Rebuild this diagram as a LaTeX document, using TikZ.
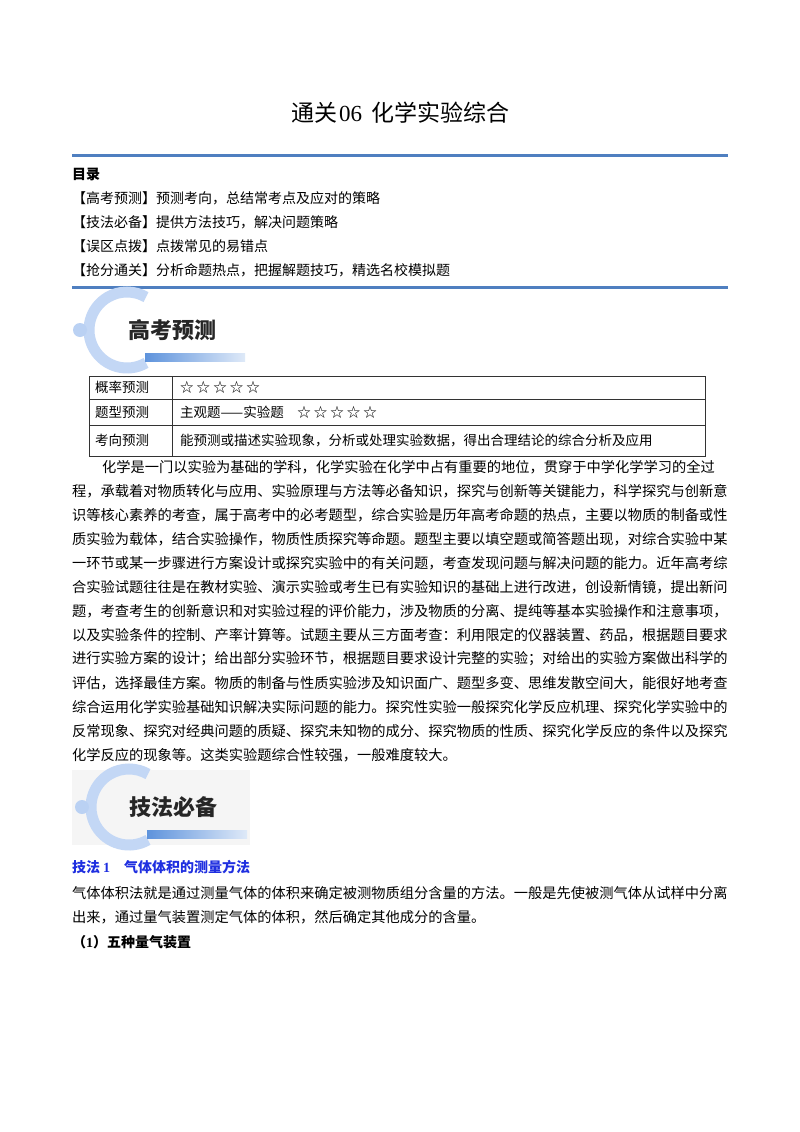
\documentclass[tikz,border=0pt]{standalone}
\usepackage{fontspec}
\setmainfont{Noto Sans CJK SC}
\newfontfamily\latinserif{Liberation Serif}
\definecolor{rulecol}{HTML}{4F7FC0}
\definecolor{cblue}{HTML}{A9C6F0}
\definecolor{barblue}{HTML}{5E93DC}
\definecolor{linkblue}{HTML}{1F2FE0}
\tikzset{
  txt/.style={anchor=west,inner sep=0pt,font=\fontsize{14.25}{17}\selectfont},
  toc/.style={anchor=west,inner sep=0pt,font=\fontsize{14}{17}\selectfont},
  badgetxt/.style={anchor=west,inner sep=0pt,font=\fontsize{22}{26}\selectfont\bfseries,text=black!85},
  cell/.style={anchor=west,inner sep=0pt,font=\fontsize{13.5}{16}\selectfont},
  bluerule/.style={draw=rulecol,line width=3pt}
}
\newcommand{\mybadge}[3]{%
  \fill[#3] (#1-2,#2-37) rectangle (#1+176,#2+38);
  \draw[cblue!70,line width=11pt] (#1+55,#2) ++(60:38) arc (60:300:38);
  \fill[cblue!80] (#1+8,#2) circle (7);
  \shade[left color=barblue,right color=barblue!20] (#1+73,#2+23) rectangle (#1+173,#2+31);
}
\begin{document}
\begin{tikzpicture}[x=1pt,y=-1pt]
\useasboundingbox (0,0) rectangle (800,1132);
\fill[white] (0,0) rectangle (800,1132);
\node[inner sep=0pt,font=\fontsize{23}{27}\selectfont] (title) at (400,113) {通关\hspace{2pt}{\latinserif 06}\hspace{9pt}化学实验综合};
\draw[bluerule] (72,155) coordinate (r1a) -- (728,155) coordinate (r1b);
\node[toc,font=\fontsize{14}{17}\selectfont\bfseries] (ml) at (72,174) {目录};
\node[toc] (t1) at (72,198) {【高考预测】预测考向，总结常考点及应对的策略};
\node[toc] (t2) at (72,222) {【技法必备】提供方法技巧，解决问题策略};
\node[toc] (t3) at (72,246) {【误区点拨】点拨常见的易错点};
\node[toc] (t4) at (72,270) {【抢分通关】分析命题热点，把握解题技巧，精选名校模拟题};
\draw[bluerule] (72,287) coordinate (r2a) -- (728,287) coordinate (r2b);
% badge 1
\mybadge{72}{330}{white}
\node[badgetxt] (b1) at (128,330) {高考预测};
% table
\draw[black!80,line width=0.8pt] (89,376) rectangle (705,456);
\draw[black!80,line width=0.8pt] (89,399) -- (705,399) (89,425) -- (705,425) (172,376) -- (172,456);
\node[cell] (c11) at (95,387) {概率预测};
\node[cell] (c12) at (180,387) {☆ ☆ ☆ ☆ ☆};
\node[cell] (c21) at (95,412) {题型预测};
\node[cell] (c22) at (180,412) {主观题——实验题　☆ ☆ ☆ ☆ ☆};
\node[cell] (c31) at (95,440) {考向预测};
\node[cell] (c32) at (180,440) {能预测或描述实验现象，分析或处理实验数据，得出合理结论的综合分析及应用};
% paragraph
\node[txt] (p1) at (102,467) {化学是一门以实验为基础的学科，化学实验在化学中占有重要的地位，贯穿于中学化学学习的全过};
\node[txt] (p2) at (72,491) {程，承载着对物质转化与应用、实验原理与方法等必备知识，探究与创新等关键能力，科学探究与创新意};
\node[txt] (p3) at (72,515) {识等核心素养的考查，属于高考中的必考题型，综合实验是历年高考命题的热点，主要以物质的制备或性};
\node[txt] (p4) at (72,539) {质实验为载体，结合实验操作，物质性质探究等命题。题型主要以填空题或简答题出现，对综合实验中某};
\node[txt] (p5) at (72,563) {一环节或某一步骤进行方案设计或探究实验中的有关问题，考查发现问题与解决问题的能力。近年高考综};
\node[txt] (p6) at (72,587) {合实验试题往往是在教材实验、演示实验或考生已有实验知识的基础上进行改进，创设新情镜，提出新问};
\node[txt] (p7) at (72,611) {题，考查考生的创新意识和对实验过程的评价能力，涉及物质的分离、提纯等基本实验操作和注意事项，};
\node[txt] (p8) at (72,635) {以及实验条件的控制、产率计算等。试题主要从三方面考查：利用限定的仪器装置、药品，根据题目要求};
\node[txt] (p9) at (72,659) {进行实验方案的设计；给出部分实验环节，根据题目要求设计完整的实验；对给出的实验方案做出科学的};
\node[txt] (p10) at (72,683) {评估，选择最佳方案。物质的制备与性质实验涉及知识面广、题型多变、思维发散空间大，能很好地考查};
\node[txt] (p11) at (72,707) {综合运用化学实验基础知识解决实际问题的能力。探究性实验一般探究化学反应机理、探究化学实验中的};
\node[txt] (p12) at (72,731) {反常现象、探究对经典问题的质疑、探究未知物的成分、探究物质的性质、探究化学反应的条件以及探究};
\node[txt] (p13) at (72,755) {化学反应的现象等。这类实验题综合性较强，一般难度较大。};
% badge 2
\mybadge{74}{807}{black!4}
\node[badgetxt] (b2) at (129,807) {技法必备};
\node[txt,font=\fontsize{14}{17}\selectfont\bfseries,text=linkblue] (h1) at (72,867) {技法\hspace{3pt}{\latinserif 1}　气体体积的测量方法};
\node[txt] (q1) at (72,893) {气体体积法就是通过测量气体的体积来确定被测物质组分含量的方法。一般是先使被测气体从试样中分离};
\node[txt] (q2) at (72,917) {出来，通过量气装置测定气体的体积，然后确定其他成分的含量。};
\node[txt,font=\fontsize{14}{17}\selectfont\bfseries] (q3) at (72,942) {（{\latinserif 1}）五种量气装置};
\end{tikzpicture}
\end{document}
